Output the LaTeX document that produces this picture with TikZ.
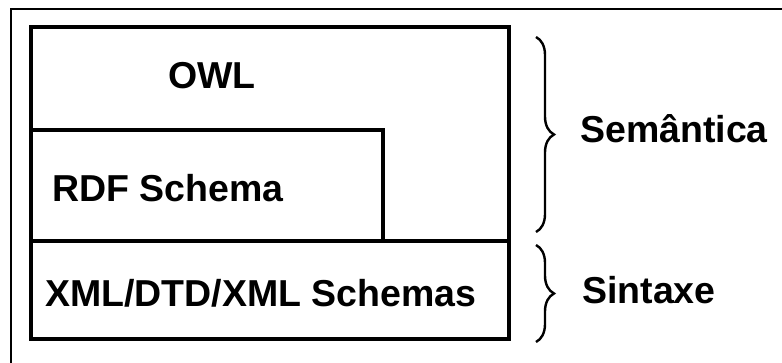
\documentclass[tikz,border=0pt]{standalone}
\usepackage{fontspec}
\setmainfont{Liberation Sans}
\usetikzlibrary{decorations.pathreplacing}
\begin{document}
\begin{tikzpicture}[x=1pt,y=-1pt,
  lbl/.style={inner sep=0pt,font=\fontsize{37.5}{42}\selectfont\bfseries},
  boxline/.style={line width=3.2pt},
  frameline/.style={line width=1.6pt},
  bracepath/.style={line width=2.4pt,decorate,decoration={brace,amplitude=18pt}}]
\useasboundingbox (0,0) rectangle (782,363);
% outer frame (cropped)
\coordinate (ftl) at (11,9);
\draw[frameline] (11,363) -- (ftl) -- (782,9);
% main box
\coordinate (tl) at (31,27);
\coordinate (br) at (509,339);
\draw[boxline] (tl) rectangle (br);
\draw[boxline] (31,241) -- (509,241);
\draw[boxline] (31,130) -- (383,130) -- (383,241);
% labels
\node[lbl,anchor=base] (owl) at (212,89) {OWL};
\node[lbl,anchor=base west] (rdf) at (52,202) {RDF Schema};
\node[lbl,anchor=base west] (xml) at (45,307) {XML/DTD/XML Schemas};
\node[lbl,anchor=base west] (sem) at (580,143) {Semântica};
\node[lbl,anchor=base west] (sin) at (582,304) {Sintaxe};
% braces
\draw[bracepath] (536,37) -- (536,232);
\draw[bracepath] (536,245) -- (536,342);
\end{tikzpicture}
\end{document}
